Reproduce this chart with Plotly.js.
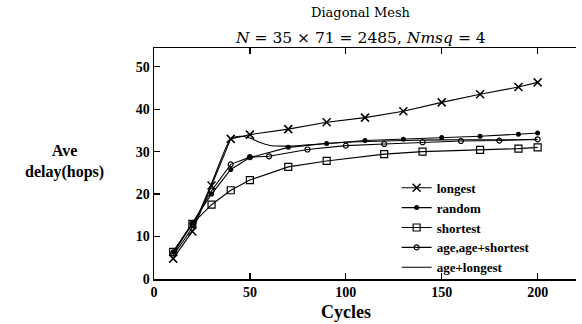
<!DOCTYPE html>
<html>
<head>
<meta charset="utf-8">
<script src="https://cdn.plot.ly/plotly-3.0.1.min.js"></script>
<style>html,body{margin:0;padding:0;background:#fff;}#chart{width:582px;height:324px;}</style>
</head>
<body>
<div id="chart"></div>
<script>
// Data
const longestX = [10, 20, 30, 40, 50, 70, 90, 110, 130, 150, 170, 190, 200];
const longestY = [4.8, 11.2, 22.0, 33.0, 34.0, 35.3, 36.9, 38.0, 39.5, 41.6, 43.5, 45.2, 46.3];

const randomX = [10, 20, 30, 40, 50, 70, 90, 110, 130, 150, 170, 190, 200];
const randomY = [6.4, 13.2, 20.0, 25.8, 28.6, 31.0, 31.9, 32.6, 32.9, 33.3, 33.6, 34.1, 34.4];

const shortestX = [10, 20, 30, 40, 50, 70, 90, 120, 140, 170, 190, 200];
const shortestY = [6.4, 13.0, 17.5, 20.9, 23.3, 26.4, 27.8, 29.4, 30.0, 30.4, 30.7, 31.0];

const ageX = [10, 20, 30, 40, 50, 60, 80, 100, 120, 140, 160, 180, 200];
const ageY = [6.0, 13.0, 20.8, 27.0, 28.7, 28.9, 30.5, 31.4, 31.8, 32.2, 32.5, 32.6, 32.9];

const ageLongX = [10, 20, 30, 40, 45, 50, 55, 60, 70, 80, 100, 120, 140, 160, 180, 200];
const ageLongY = [5.6, 12.2, 22.5, 33.0, 33.6, 33.2, 32.2, 31.5, 31.3, 31.6, 32.2, 32.5, 32.7, 32.8, 32.8, 32.8];

const xTicks = [0, 50, 100, 150, 200];
const yTicks = [0, 10, 20, 30, 40, 50];

const serif = "Liberation Serif";
const lineStyle = {color: "#000", width: 1.1};

const traces = [
  {name: "longest", x: longestX, y: longestY, mode: "lines+markers", line: lineStyle,
   marker: {symbol: "x-thin-open", size: 8, color: "#000", line: {width: 1.5, color: "#000"}}},
  {name: "random", x: randomX, y: randomY, mode: "lines+markers", line: lineStyle,
   marker: {symbol: "circle", size: 5, color: "#000"}},
  {name: "shortest", x: shortestX, y: shortestY, mode: "lines+markers", line: lineStyle,
   marker: {symbol: "square-open", size: 7, color: "#000", line: {width: 1.2, color: "#000"}}},
  {name: "age,age+shortest", x: ageX, y: ageY, mode: "lines+markers", line: lineStyle,
   marker: {symbol: "circle-open", size: 5, color: "#000", line: {width: 1.2, color: "#000"}}},
  {name: "age+longest", x: ageLongX, y: ageLongY, mode: "lines", line: {color: "#000", width: 1.1, shape: "spline", smoothing: 0.6}}
];

const layout = {
  width: 582, height: 324,
  margin: {l: 154, r: 6, t: 48, b: 45},
  paper_bgcolor: "#fff", plot_bgcolor: "#fff",
  font: {family: serif, color: "#000"},
  showlegend: true,
  legend: {x: 0.575, y: 0.46, xanchor: "left", yanchor: "top", bgcolor: "rgba(0,0,0,0)",
           font: {family: serif, size: 13, color: "#000", weight: "bold"}, tracegroupgap: 0, itemwidth: 30},
  xaxis: {range: [0, 220], tickvals: xTicks, ticktext: xTicks.map(String), showgrid: false, zeroline: false,
          showline: true, linecolor: "#000", linewidth: 1.5, mirror: "ticks", ticks: "inside", ticklen: 6,
          tickcolor: "#000", tickwidth: 1.2,
          tickfont: {family: serif, size: 14, color: "#000", weight: "bold"}},
  yaxis: {range: [0, 54.4], tickvals: yTicks, ticktext: yTicks.map(String), showgrid: false, zeroline: false,
          showline: true, linecolor: "#000", linewidth: 1.5, mirror: false, ticks: "inside", ticklen: 6,
          tickcolor: "#000", tickwidth: 1.2,
          tickfont: {family: serif, size: 14, color: "#000", weight: "bold"}},
  annotations: [
    {text: "Diagonal Mesh", xref: "paper", yref: "paper", x: 0.49, y: 1.152, xanchor: "center", yanchor: "middle",
     showarrow: false, font: {family: "DejaVu Serif", size: 13, color: "#000"}},
    {text: "<i>N</i> = 35 × 71 = 2485, <i>Nmsq</i> = 4", xref: "paper", yref: "paper", x: 0.49, y: 1.045,
     xanchor: "center", yanchor: "middle", showarrow: false, font: {family: "DejaVu Serif", size: 15.5, color: "#000"}},
    {text: "Ave<br>delay(hops)", xref: "paper", yref: "paper", x: -0.211, y: 0.51,
     xanchor: "center", yanchor: "middle", showarrow: false, align: "center",
     font: {family: serif, size: 16, color: "#000", weight: "bold"}},
    {text: "Cycles", xref: "x", yref: "paper", x: 100, y: -0.145, xanchor: "center", yanchor: "middle",
     showarrow: false, font: {family: serif, size: 18, color: "#000", weight: "bold"}}
  ]
};

Plotly.newPlot("chart", traces, layout, {staticPlot: true, displayModeBar: false});
</script>
</body>
</html>
